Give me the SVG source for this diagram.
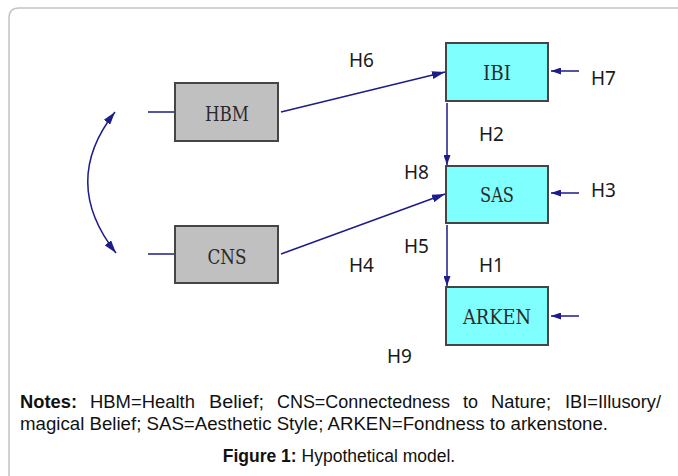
<svg xmlns="http://www.w3.org/2000/svg" width="678" height="476" viewBox="0 0 678 476">
<style>
.frame{fill:none;stroke:#c4c4c4;stroke-width:1.5}
.box rect{stroke:#454545;stroke-width:2}
.grey rect{fill:#c0c0c0}
.cyan rect{fill:#80ffff}
.box text{font-family:"DejaVu Serif","Liberation Serif",serif;font-stretch:condensed;font-size:21px;fill:#2a2a2a;text-anchor:middle}
.conn path,.conn line{fill:none;stroke:#1c1c8a;stroke-width:1.5}
.lbl{font-family:"Noto Sans","Open Sans",sans-serif;font-size:19px;fill:#1a1a1a}
.note{font-family:"Liberation Sans",Arial,sans-serif;font-size:17.5px;fill:#111}
.b{font-weight:bold}
</style>
<defs>
<marker id="ah" viewBox="0 0 13 8" refX="13" refY="4" markerWidth="13" markerHeight="8" markerUnits="userSpaceOnUse" orient="auto-start-reverse">
<path d="M0,0 L13,4 L0,8 Z" fill="#1c1c8a"/>
</marker>
<marker id="ahs" viewBox="0 0 10 7" refX="10" refY="3.5" markerWidth="10" markerHeight="7" markerUnits="userSpaceOnUse" orient="auto">
<path d="M0,0 L10,3.5 L0,7 Z" fill="#1c1c8a"/>
</marker>
</defs>
<path class="frame" d="M9,476 L9,18 Q9,8 19,8 L678,8"/>
<g id="connectors" class="conn">
<line x1="148" y1="112" x2="175" y2="112"/>
<line x1="148" y1="254" x2="175" y2="254"/>
<path d="M115,112 Q60,182 116,253" marker-start="url(#ah)" marker-end="url(#ah)"/>
<line x1="281" y1="112" x2="445" y2="72" marker-end="url(#ah)"/>
<line x1="281" y1="254" x2="445" y2="194" marker-end="url(#ah)"/>
<line x1="447" y1="103" x2="447" y2="165" marker-end="url(#ahs)"/>
<line x1="447" y1="225" x2="447" y2="286" marker-end="url(#ahs)"/>
<line x1="579" y1="71" x2="551" y2="71" marker-end="url(#ahs)"/>
<line x1="579" y1="193" x2="551" y2="193" marker-end="url(#ahs)"/>
<line x1="579" y1="316" x2="551" y2="316" marker-end="url(#ahs)"/>
</g>
<g id="HBM" class="box grey"><rect x="175" y="83" width="103" height="58"/><text x="227" y="121" textLength="44" lengthAdjust="spacingAndGlyphs">HBM</text></g>
<g id="CNS" class="box grey"><rect x="175" y="226" width="103" height="57"/><text x="227" y="264" textLength="39" lengthAdjust="spacingAndGlyphs">CNS</text></g>
<g id="IBI" class="box cyan"><rect x="446" y="43" width="102" height="58"/><text x="497" y="80" textLength="28" lengthAdjust="spacingAndGlyphs">IBI</text></g>
<g id="SAS" class="box cyan"><rect x="446" y="166" width="102" height="57"/><text x="497" y="202" textLength="34" lengthAdjust="spacingAndGlyphs">SAS</text></g>
<g id="ARKEN" class="box cyan"><rect x="446" y="287" width="102" height="58"/><text x="497" y="324" textLength="68" lengthAdjust="spacingAndGlyphs">ARKEN</text></g>
<g id="labels" class="lbl">
<text x="349" y="67">H6</text>
<text x="591" y="85">H7</text>
<text x="479" y="141">H2</text>
<text x="404" y="179">H8</text>
<text x="591" y="197">H3</text>
<text x="404" y="253">H5</text>
<text x="479" y="272">H1</text>
<text x="349" y="272">H4</text>
<text x="387" y="363">H9</text>
</g>
<g id="caption" class="note">
<text x="20" y="408" class="b" textLength="57" lengthAdjust="spacingAndGlyphs">Notes:</text>
<text x="90" y="408" textLength="105" lengthAdjust="spacingAndGlyphs">HBM=Health</text>
<text x="209" y="408" textLength="55" lengthAdjust="spacingAndGlyphs">Belief;</text>
<text x="277" y="408" textLength="173" lengthAdjust="spacingAndGlyphs">CNS=Connectedness</text>
<text x="463" y="408" textLength="15" lengthAdjust="spacingAndGlyphs">to</text>
<text x="491" y="408" textLength="60" lengthAdjust="spacingAndGlyphs">Nature;</text>
<text x="565" y="408" textLength="96" lengthAdjust="spacingAndGlyphs">IBI=Illusory/</text>
<text x="20" y="430" textLength="588" lengthAdjust="spacingAndGlyphs">magical Belief; SAS=Aesthetic Style; ARKEN=Fondness to arkenstone.</text>
<text x="339" y="462" text-anchor="middle"><tspan class="b">Figure 1:</tspan> Hypothetical model.</text>
</g>
</svg>
